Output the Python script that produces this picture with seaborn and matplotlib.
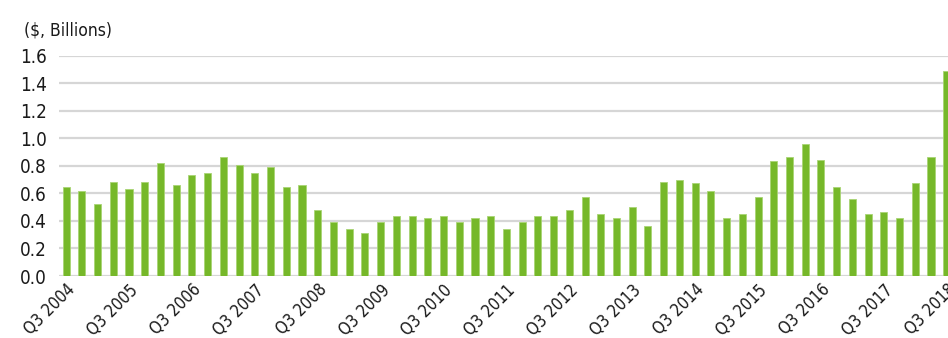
import matplotlib
matplotlib.use("Agg")
import matplotlib.pyplot as plt
import matplotlib.transforms as mtransforms
import seaborn as sns
import pandas as pd

# Quarterly values, $ billions, Q3 2004 through Q3 2018
values = [
    0.645, 0.619, 0.521, 0.684,   # Q3 2004 - Q2 2005
    0.631, 0.684, 0.820, 0.659,   # Q3 2005 - Q2 2006
    0.737, 0.751, 0.863, 0.807,   # Q3 2006 - Q2 2007
    0.751, 0.793, 0.645, 0.659,   # Q3 2007 - Q2 2008
    0.477, 0.393, 0.340, 0.312,   # Q3 2008 - Q2 2009
    0.393, 0.435, 0.435, 0.420,   # Q3 2009 - Q2 2010
    0.435, 0.393, 0.420, 0.435,   # Q3 2010 - Q2 2011
    0.340, 0.393, 0.435, 0.435,   # Q3 2011 - Q2 2012
    0.477, 0.576, 0.450, 0.420,   # Q3 2012 - Q2 2013
    0.504, 0.365, 0.684, 0.698,   # Q3 2013 - Q2 2014
    0.672, 0.619, 0.420, 0.447,   # Q3 2014 - Q2 2015
    0.576, 0.833, 0.861, 0.962,   # Q3 2015 - Q2 2016
    0.846, 0.645, 0.561, 0.450,   # Q3 2016 - Q2 2017
    0.462, 0.420, 0.672, 0.864,   # Q3 2017 - Q2 2018
    1.492,                        # Q3 2018
]

tick_labels = ["Q3 2004", "Q3 2005", "Q3 2006", "Q3 2007", "Q3 2008",
               "Q3 2009", "Q3 2010", "Q3 2011", "Q3 2012", "Q3 2013",
               "Q3 2014", "Q3 2015", "Q3 2016", "Q3 2017", "Q3 2018"]

y_ticks = [0.0, 0.2, 0.4, 0.6, 0.8, 1.0, 1.2, 1.4, 1.6]

quarters = []
q, yr = 3, 2004
for _ in values:
    quarters.append(f"Q{q} {yr}")
    q += 1
    if q > 4:
        q, yr = 1, yr + 1

df = pd.DataFrame({"quarter": quarters, "value": values})

sns.set_theme(style="white")
plt.rcParams["font.family"] = ["DejaVu Sans"]
plt.rcParams["font.stretch"] = "condensed"

BAR = "#76b82a"
GRID = "#d6d6d6"
INK = "#1a1a1a"

fig = plt.figure(figsize=(9.48, 3.38), dpi=100)
ax = fig.add_axes([59 / 948, (338 - 276) / 338, (956.2 - 59) / 948, (276 - 55.7) / 338])

sns.barplot(data=df, x="quarter", y="value", color=BAR, width=0.45,
            saturation=1, edgecolor="#a9d574", linewidth=0.6, ax=ax, zorder=3)

ax.set_xlim(-0.45, 56.6)
ax.set_ylim(0, 1.6)
ax.set_yticks(y_ticks)
ax.set_yticklabels([f"{t:.1f}" for t in y_ticks], fontsize=13.5, color=INK,
                   fontstretch="condensed")
ax.yaxis.grid(True, color=GRID, linewidth=1.6, zorder=0)
ax.xaxis.grid(False)
ax.set_axisbelow(True)

tick_pos = [quarters.index(lbl) for lbl in tick_labels]
ax.set_xticks(tick_pos)
ax.set_xticklabels(tick_labels, rotation=45, ha="right", va="top",
                   rotation_mode="anchor", fontsize=12, color=INK,
                   fontstretch="condensed")
shift = mtransforms.ScaledTranslation(10 / 100, 0, fig.dpi_scale_trans)
for lbl in ax.get_xticklabels():
    lbl.set_transform(lbl.get_transform() + shift)
ax.tick_params(axis="x", length=0, pad=3.5)
ax.tick_params(axis="y", length=0, pad=9)
ax.set_xlabel("")
ax.set_ylabel("")
for s in ax.spines.values():
    s.set_visible(False)

fig.text(24 / 948, 1 - 36 / 338, "($, Billions)", fontsize=12.5,
         color=INK, ha="left", va="baseline", fontstretch="condensed")

fig.savefig("out.png", dpi=100)
